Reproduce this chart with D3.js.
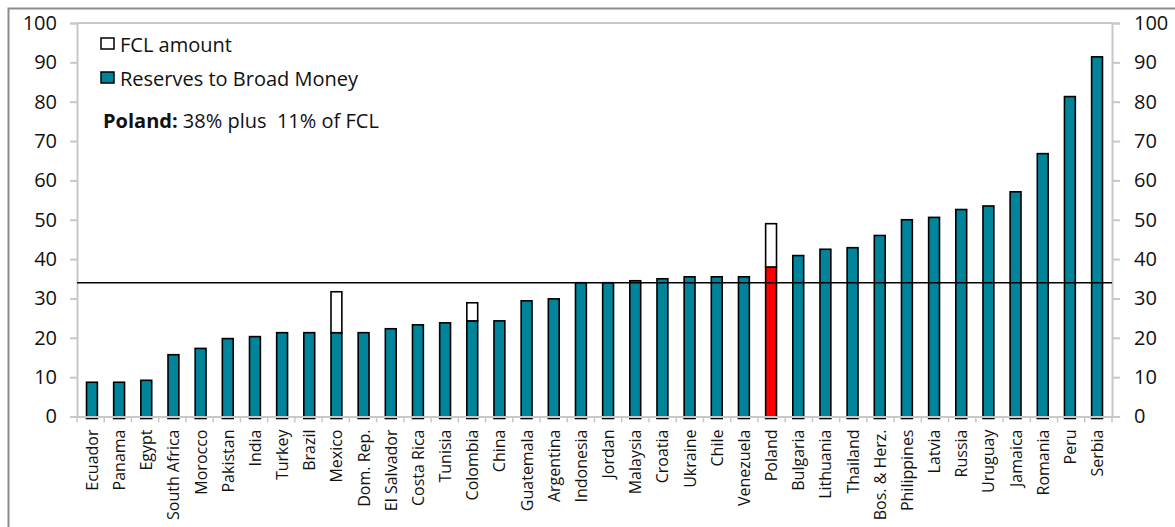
<!DOCTYPE html>
<html>
<head>
<meta charset="utf-8">
<script src="https://cdn.jsdelivr.net/npm/d3@7"></script>
<style>
  html, body { margin: 0; padding: 0; background: #fff; }
  svg { display: block; font-family: "Open Sans", "Noto Sans", sans-serif; }
</style>
</head>
<body>
<svg id="chart" width="1175" height="527"></svg>
<script>
// Reserves to broad money (%) by country, with FCL amount stacked on top where applicable
const countries = ["Ecuador","Panama","Egypt","South Africa","Morocco","Pakistan","India","Turkey","Brazil","Mexico",
  "Dom. Rep.","El Salvador","Costa Rica","Tunisia","Colombia","China","Guatemala","Argentina","Indonesia","Jordan",
  "Malaysia","Croatia","Ukraine","Chile","Venezuela","Poland","Bulgaria","Lithuania","Thailand","Bos. & Herz.",
  "Philippines","Latvia","Russia","Uruguay","Jamaica","Romania","Peru","Serbia"];
const reserves = [8.7, 8.7, 9.2, 15.7, 17.3, 19.8, 20.3, 21.3, 21.3, 21.3,
  21.3, 22.3, 23.3, 23.8, 24.3, 24.3, 29.4, 29.9, 34.0, 34.0,
  34.5, 35.0, 35.5, 35.5, 35.5, 38, 40.9, 42.5, 42.9, 46.0,
  50.0, 50.6, 52.6, 53.5, 57.1, 66.8, 81.3, 91.4];
const fcl = [0, 0, 0, 0, 0, 0, 0, 0, 0, 10.4,
  0, 0, 0, 0, 4.6, 0, 0, 0, 0, 0,
  0, 0, 0, 0, 0, 11, 0, 0, 0, 0,
  0, 0, 0, 0, 0, 0, 0, 0];
const highlight = "Poland";
const thresholdValue = 34;
const yTicks = [0, 10, 20, 30, 40, 50, 60, 70, 80, 90, 100];

const svg = d3.select("#chart");
const margin = { left: 77, right: 1112, top: 23, bottom: 416.5 };

// outer frame
svg.append("path")
  .attr("d", "M8.5,530 V8.5 H1180")
  .attr("fill", "none").attr("stroke", "#8c8c8c").attr("stroke-width", 2);

const x = d3.scaleBand().domain(countries).range([margin.left, margin.right]).paddingInner(0.6).paddingOuter(0.35);
const y = d3.scaleLinear().domain([0, 100]).range([margin.bottom, margin.top]);

// bars: reserves (outline runs slightly past the baseline)
const bars = svg.append("g");
bars.selectAll("rect.res").data(countries).join("rect")
  .attr("class", "res")
  .attr("x", d => x(d))
  .attr("width", x.bandwidth())
  .attr("y", (d, i) => y(reserves[i]))
  .attr("height", (d, i) => y(0) - y(reserves[i]) + 2)
  .attr("fill", d => d === highlight ? "#ff0000" : "#00849c")
  .attr("stroke", "#000").attr("stroke-width", 1.6);

// bars: FCL amount stacked on reserves
bars.selectAll("rect.fcl").data(countries.filter((d, i) => fcl[i] > 0)).join("rect")
  .attr("class", "fcl")
  .attr("x", d => x(d))
  .attr("width", x.bandwidth())
  .attr("y", d => { const i = countries.indexOf(d); return y(reserves[i] + fcl[i]); })
  .attr("height", d => { const i = countries.indexOf(d); return y(reserves[i]) - y(reserves[i] + fcl[i]); })
  .attr("fill", "#fff")
  .attr("stroke", "#000").attr("stroke-width", 1.6);

// plot area border (top)
svg.append("line")
  .attr("x1", margin.left).attr("x2", margin.right)
  .attr("y1", y(100)).attr("y2", y(100))
  .attr("stroke", "#c8c8c8").attr("stroke-width", 2);

// left axis
const yLeft = svg.append("g").attr("transform", `translate(${margin.left},0)`)
  .call(d3.axisLeft(y).tickValues(yTicks).tickSize(7).tickPadding(13));
// right axis
const yRight = svg.append("g").attr("transform", `translate(${margin.right},0)`)
  .call(d3.axisRight(y).tickValues(yTicks).tickSize(8).tickPadding(14));
[yLeft, yRight].forEach(g => {
  g.select(".domain").attr("stroke", "#c8c8c8").attr("stroke-width", 2);
  g.selectAll(".tick line").attr("stroke", "#c8c8c8").attr("stroke-width", 2);
  g.selectAll(".tick text").attr("font-size", 20).attr("fill", "#111")
    .attr("font-family", "'Open Sans', sans-serif");
});

// category axis
const xAxis = svg.append("g").attr("transform", `translate(0,${y(0)})`)
  .call(d3.axisBottom(x).tickSize(0).tickPadding(0));
xAxis.select(".domain").attr("stroke", "#c8c8c8").attr("stroke-width", 2);
xAxis.selectAll(".tick text")
  .attr("font-size", 16).attr("fill", "#111")
  .attr("font-family", "'Open Sans', sans-serif")
  .attr("text-anchor", "end")
  .attr("dy", null)
  .attr("transform", "translate(6,13) rotate(-90)");
// category separators
const boundaries = d3.range(countries.length + 1).map(i => margin.left + i * (margin.right - margin.left) / countries.length);
xAxis.selectAll("line.sep").data(boundaries).join("line")
  .attr("class", "sep")
  .attr("x1", d => d).attr("x2", d => d)
  .attr("y1", 0).attr("y2", 6)
  .attr("stroke", "#c8c8c8").attr("stroke-width", 1.5);

// threshold line
svg.append("line")
  .attr("x1", margin.left).attr("x2", margin.right)
  .attr("y1", y(thresholdValue)).attr("y2", y(thresholdValue))
  .attr("stroke", "#000").attr("stroke-width", 1.6);

// legend
const legend = svg.append("g").attr("font-size", 20).attr("fill", "#111");
const legendItems = [
  { label: "FCL amount", fill: "#fff", yy: 44 },
  { label: "Reserves to Broad Money", fill: "#00849c", yy: 78 }
];
legendItems.forEach(it => {
  legend.append("rect")
    .attr("x", 101).attr("y", it.yy - 6).attr("width", 13).attr("height", 11)
    .attr("fill", it.fill).attr("stroke", "#000").attr("stroke-width", 1.5);
  legend.append("text")
    .attr("x", 120).attr("y", it.yy + 8)
    .text(it.label);
});
const note = legend.append("text").attr("x", 103).attr("y", 128)
  .attr("font-size", 20).style("white-space", "pre");
note.append("tspan").attr("font-weight", "bold").text("Poland:");
note.append("tspan").text(" 38% plus  11% of FCL");
</script>
</body>
</html>
